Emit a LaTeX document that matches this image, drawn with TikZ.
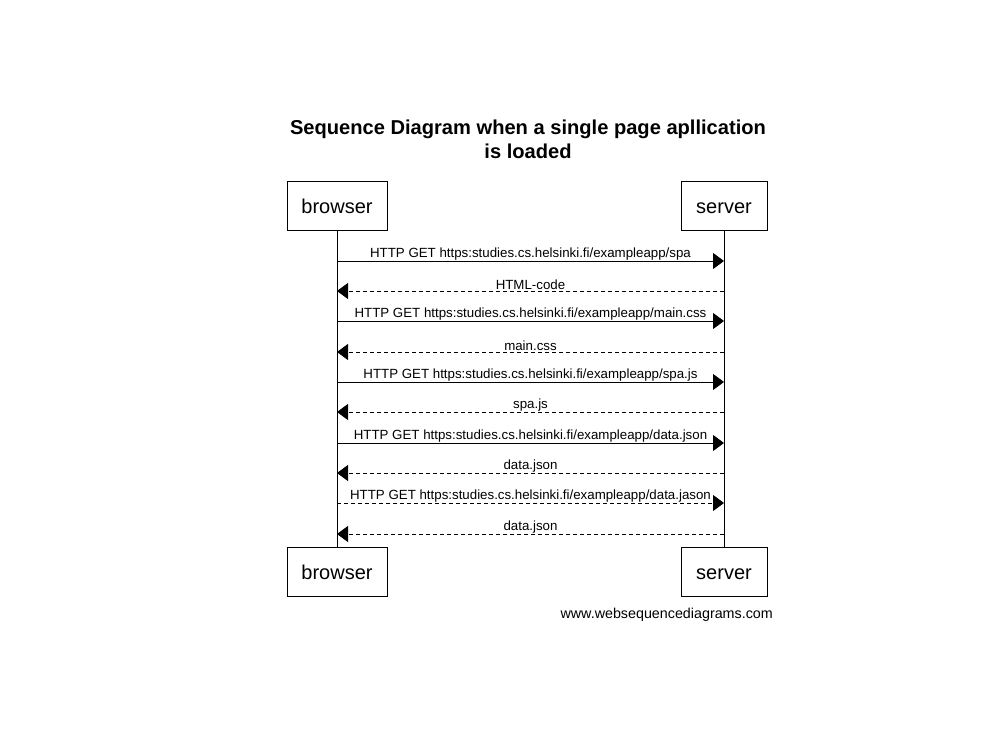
\documentclass[tikz,border=0pt]{standalone}
\usepackage{fontspec}
\setmainfont{Liberation Sans}
\usepackage{tikz}
\usetikzlibrary{arrows.meta, positioning, calc}
\definecolor{mydark}{RGB}{0,0,0}
\tikzset{
  actor/.style={rectangle, draw=mydark, fill=white, minimum height=49pt,
    inner sep=0pt, text height=17pt, text depth=2pt,
    font=\fontsize{20}{24}\selectfont, line width=0.8pt},
  msg/.style={-{Triangle[length=11pt, width=16pt]}, line width=0.8pt, color=mydark},
  reply/.style={msg, dash pattern=on 4pt off 3pt},
  lifeline/.style={line width=0.8pt, color=mydark},
  lbl/.style={font=\fontsize{13.3}{15}\selectfont, inner sep=0pt, fill=white}
}

\begin{document}
\begin{tikzpicture}[x=1pt, y=-1pt]
  \useasboundingbox (0,0) rectangle (996,739);

  % Title
  \node[font=\fontsize{20.1}{24}\bfseries, align=center] (title) at (528,139)
    {Sequence Diagram when a single page apllication\\is loaded};

  % Participants (top and bottom)
  \node[actor, minimum width=100pt] (btop) at (337,205.5) {browser};
  \node[actor, minimum width=86pt] (stop) at (724,205.5) {server};
  \node[actor, minimum width=100pt] (bbot) at (337,571.5) {browser};
  \node[actor, minimum width=86pt] (sbot) at (724,571.5) {server};

  % Lifelines
  \draw[lifeline] (btop.south) -- (bbot.north);
  \draw[lifeline] (stop.south) -- (sbot.north);

  % Messages
  \foreach \y/\txt/\kind in {
      261/{HTTP GET https:studies.cs.helsinki.fi/exampleapp/spa}/msg,
      321/{HTTP GET https:studies.cs.helsinki.fi/exampleapp/main.css}/msg,
      382/{HTTP GET https:studies.cs.helsinki.fi/exampleapp/spa.js}/msg,
      443/{HTTP GET https:studies.cs.helsinki.fi/exampleapp/data.json}/msg,
      503/{HTTP GET https:studies.cs.helsinki.fi/exampleapp/data.jason}/reply} {
    \coordinate (b\y) at (btop.south |- 0,\y);
    \coordinate (s\y) at (stop.south |- 0,\y);
    \draw[\kind] (b\y) -- node[lbl, above=0.5pt] {\txt} (s\y);
  }

  % Replies
  \foreach \y/\txt in {291/HTML-code, 352/main.css, 412/spa.js, 473/data.json, 534/data.json} {
    \coordinate (s\y) at (stop.south |- 0,\y);
    \coordinate (b\y) at (btop.south |- 0,\y);
    \draw[reply] (s\y) -- node[lbl, above=0.5pt] {\txt} (b\y);
  }

  % Footer
  \node[font=\fontsize{14.3}{17}\selectfont, anchor=east, inner sep=0pt] (foot) at (773,615)
    {www.websequencediagrams.com};
\end{tikzpicture}
\end{document}
